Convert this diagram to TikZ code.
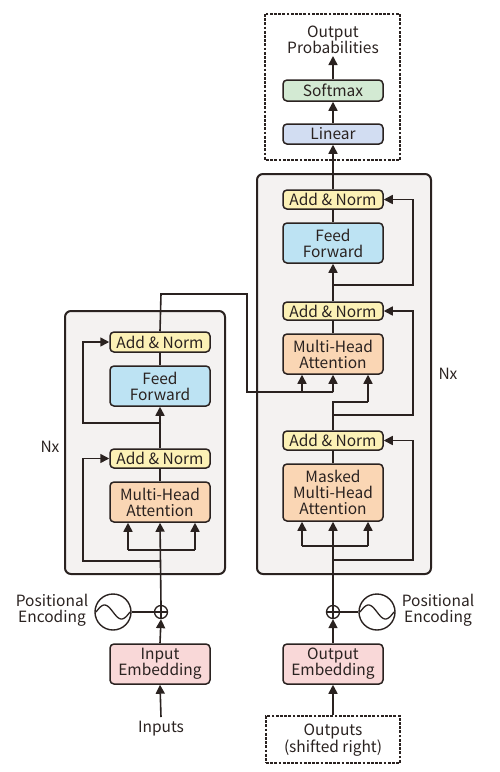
\documentclass[tikz,border=0pt]{standalone}
\usepackage{fontspec}
\setmainfont{Noto Sans CJK JP}
\usetikzlibrary{arrows.meta}
\definecolor{linec}{HTML}{2A2220}
\definecolor{panel}{HTML}{F4F2F1}
\definecolor{cyel}{HTML}{FCF1B6}
\definecolor{cblue}{HTML}{BDE3F3}
\definecolor{corange}{HTML}{FAD6B4}
\definecolor{cgreen}{HTML}{D3EAD3}
\definecolor{clin}{HTML}{D2DDF2}
\definecolor{cpink}{HTML}{F9D8D8}
\begin{document}
\begin{tikzpicture}[x=1pt,y=-1pt,
  font=\fontsize{15.5}{16}\selectfont,
  every node/.style={text=linec},
  blk/.style={draw=linec, line width=1.5pt, rounded corners=4pt, minimum width=100pt, inner sep=0pt, align=center},
  panelbox/.style={draw=linec, line width=2pt, rounded corners=6pt, fill=panel},
  dotbox/.style={draw=linec, line width=2.8pt, dash pattern=on 2.8pt off 1.4pt},
  ln/.style={draw=linec, line width=1.6pt},
  arr/.style={ln, -{Triangle[length=9pt,width=9pt]}},
  lbl/.style={align=center, inner sep=0pt}
]
\useasboundingbox (0,0) rectangle (500,772);

% panels
\draw[panelbox] (65,311) rectangle (225,574);
\draw[panelbox] (257,174) rectangle (431,574);
\draw[dotbox] (265,14) rectangle (400,160);
\node[dotbox, minimum width=134pt, minimum height=47pt, inner sep=0pt] (outs) at (333,739.5) {};
\node[lbl] (outstxt) at (333,740) {Outputs\\(shifted right)};

% top
\node[lbl] (prob) at (333,40) {Output\\Probabilities};
\node[blk, fill=cgreen, minimum height=21pt] (soft) at (333,90.5) {Softmax};
\node[blk, fill=clin, minimum height=20pt] (lin) at (333,134) {Linear};
\coordinate (probin) at (333,56);

% decoder
\node[blk, fill=cyel, minimum height=19pt] (dan3) at (333,199.5) {Add \& Norm};
\node[blk, fill=cblue, minimum height=40pt] (dff) at (333,243) {Feed\\Forward};
\node[blk, fill=cyel, minimum height=18pt] (dan2) at (333,311) {Add \& Norm};
\node[blk, fill=corange, minimum height=40pt] (dmha) at (333,354) {Multi-Head\\Attention};
\node[blk, fill=cyel, minimum height=19pt] (dan1) at (333,440.5) {Add \& Norm};
\node[blk, fill=corange, minimum height=57pt] (dmm) at (333,492.5) {Masked\\Multi-Head\\Attention};
\node[lbl] (nxr) at (448,374) {Nx};

% encoder
\node[blk, fill=cyel, minimum height=20pt] (ean2) at (160,342) {Add \& Norm};
\node[blk, fill=cblue, minimum height=40pt] (eff) at (160,386) {Feed\\Forward};
\node[blk, fill=cyel, minimum height=19pt] (ean1) at (160,458.5) {Add \& Norm};
\node[blk, fill=corange, minimum height=40pt] (emha) at (160,502) {Multi-Head\\Attention};
\node[lbl] (nxl) at (50,447) {Nx};

% embeddings
\node[blk, fill=cpink, minimum height=40pt] (iemb) at (160,664) {Input\\Embedding};
\node[blk, fill=cpink, minimum height=40pt] (oemb) at (333,664) {Output\\Embedding};
\node[lbl] (inputs) at (161,729) {Inputs};
\coordinate (inbot) at (161,717);

% positional encodings
\node[circle, draw=linec, line width=1.3pt, fill=white, minimum size=13pt, inner sep=0pt] (p1) at (161,612) {};
\node[circle, draw=linec, line width=1.3pt, fill=white, minimum size=13pt, inner sep=0pt] (p2) at (333,612) {};
\draw[ln, line width=1.2pt] (p1.north) -- (p1.south) (p1.east) -- (p1.west);
\draw[ln, line width=1.2pt] (p2.north) -- (p2.south) (p2.east) -- (p2.west);
\node[circle, draw=linec, line width=1.4pt, minimum size=36pt, inner sep=0pt] (s1) at (113,612) {};
\node[circle, draw=linec, line width=1.4pt, minimum size=36pt, inner sep=0pt] (s2) at (377,612) {};
\draw[ln, line width=1.3pt] plot[domain=-17:17, samples=50, smooth] ({113+\x},{612+7*sin(10.6*\x)});
\draw[ln, line width=1.3pt] plot[domain=-17:17, samples=50, smooth] ({377+\x},{612+7*sin(10.6*\x)});
\draw[ln] (s1.east) -- (p1.west);
\draw[ln] (p2.east) -- (s2.west);
\node[lbl] (pel) at (52,610) {Positional\\Encoding};
\node[lbl] (per) at (438,610) {Positional\\Encoding};

% encoder connections
\draw[arr] (inbot) -- (iemb.south);
\draw[arr] (iemb.north) -- (p1.south);
\coordinate (eres1) at (161,561);
\draw[arr] (p1.north) -- (emha.south);
\draw[ln] (128,550) -- (195,550);
\draw[arr] (128,550) -- ([xshift=-32pt]emha.south);
\draw[arr] (195,550) -- ([xshift=35pt]emha.south);
\draw[arr] (eres1) -- (83,561) |- (ean1.west);
\draw[ln] (emha.north) -- (ean1.south);
\draw[arr] (ean1.north) -- (eff.south);
\coordinate (eres2) at (161,423);
\draw[arr] (eres2) -- (83,423) |- (ean2.west);
\draw[ln] (eff.north) -- (ean2.south);
\coordinate (ebend) at (247,392);
\draw[ln] (ean2.north) -- (161,294) -- (247,294) -- (ebend) -- (333,392);
\draw[arr] (302,392) -- ([xshift=-31pt]dmha.south);
\draw[arr] (333,392) -- (dmha.south);

% decoder connections
\draw[arr] (outs.north) -- (oemb.south);
\draw[arr] (oemb.north) -- (p2.south);
\draw[arr] (p2.north) -- (dmm.south);
\draw[ln] (302,546) -- (368,546);
\draw[arr] (302,546) -- ([xshift=-31pt]dmm.south);
\draw[arr] (368,546) -- ([xshift=35pt]dmm.south);
\coordinate (dres1) at (333,560);
\draw[arr] (dres1) -- (413,560) |- (dan1.east);
\draw[ln] (dmm.north) -- (dan1.south);
\draw[ln] (dan1.north) -- (333,402) -- (368,402);
\draw[arr] (368,402) -- ([xshift=35pt]dmha.south);
\coordinate (dres2) at (333,415);
\draw[arr] (dres2) -- (413,415) |- (dan2.east);
\draw[ln] (dmha.north) -- (dan2.south);
\draw[arr] (dan2.north) -- (dff.south);
\coordinate (dres3) at (333,285);
\draw[arr] (dres3) -- (413,285) |- (dan3.east);
\draw[ln] (dff.north) -- (dan3.south);
\draw[arr] (dan3.north) -- (lin.south);
\draw[arr] (lin.north) -- (soft.south);
\draw[arr] (soft.north) -- (probin);
\end{tikzpicture}
\end{document}
